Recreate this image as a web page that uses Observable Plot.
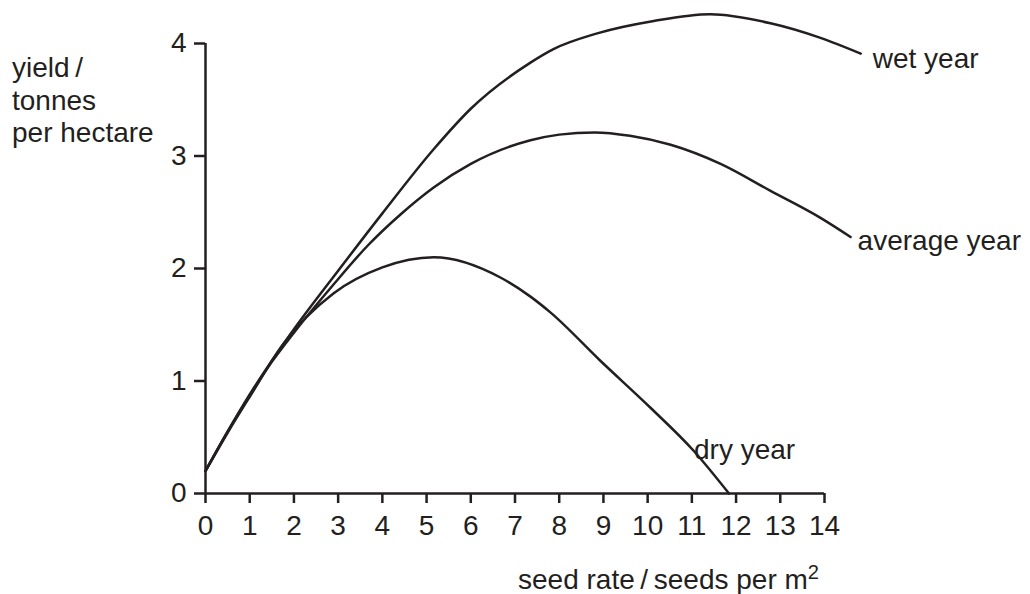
<!DOCTYPE html>
<html>
<head>
<meta charset="utf-8">
<script src="https://cdn.jsdelivr.net/npm/d3@7"></script>
<script src="https://cdn.jsdelivr.net/npm/@observablehq/plot@0.6"></script>
<style>
  html, body { margin: 0; padding: 0; background: #fff; }
  #chart svg { display: block; }
</style>
</head>
<body>
<div id="chart"></div>
<script>
// ---- data ----
const xTicks = [0, 1, 2, 3, 4, 5, 6, 7, 8, 9, 10, 11, 12, 13, 14];
const yTicks = [0, 1, 2, 3, 4];

const wetX = [0, 0.5, 1, 1.5, 2, 3, 4, 5.16, 6, 7.35, 7.87, 8.86, 10.14, 11.42, 12.78, 13.91, 14.82];
const wetY = [0.2, 0.55, 0.88, 1.18, 1.46, 1.98, 2.49, 3.06, 3.42, 3.83, 3.95, 4.09, 4.20, 4.26, 4.18, 4.05, 3.91];

const avgX = [0, 0.5, 1, 1.5, 2, 2.9, 3.66, 4.41, 5.16, 6, 7.35, 8.0, 8.8, 9.6, 10.52, 11.65, 12.78, 13.91, 14.59];
const avgY = [0.2, 0.55, 0.87, 1.17, 1.43, 1.86, 2.20, 2.48, 2.72, 2.93, 3.14, 3.19, 3.21, 3.18, 3.10, 2.93, 2.69, 2.45, 2.28];

const dryX = [0, 0.5, 1, 1.76, 2.9, 4, 5.16, 6.67, 7.35, 7.8, 8.93, 10.07, 11.04, 11.84];
const dryY = [0.2, 0.54, 0.86, 1.33, 1.78, 2.01, 2.10, 1.92, 1.75, 1.61, 1.18, 0.76, 0.38, 0.0];

const seriesNames = ["wet year", "average year", "dry year"];
const yTitleLines = ["yield\u2009/", "tonnes", "per hectare"];
const xTitleMain = "seed rate\u2009/\u2009seeds per m";
const xTitleSup = "2";

// ---- build tables ----
const toRows = (xs, ys, name) => xs.map((x, i) => ({x, y: ys[i], series: name}));
const wet = toRows(wetX, wetY, seriesNames[0]);
const avg = toRows(avgX, avgY, seriesNames[1]);
const dry = toRows(dryX, dryY, seriesNames[2]);
const ink = "#231f20";
const font = "'Liberation Sans', Arial, Helvetica, sans-serif";
const fs = 28;

const endLabel = (rows, dx, dy) => Plot.text([rows[rows.length - 1]], {
  x: "x", y: "y", text: "series", textAnchor: "start", lineAnchor: "bottom",
  dx, dy, fontSize: fs, fill: ink
});

const chart = Plot.plot({
  width: 1030,
  height: 594,
  marginLeft: 205,
  marginRight: 206,
  marginTop: 43,
  marginBottom: 101,
  style: {fontFamily: font, color: ink, background: "#fff", overflow: "visible"},
  x: {domain: [0, 14]},
  y: {domain: [0, 4]},
  marks: [
    Plot.axisX({ticks: xTicks, tickSize: 10, tickPadding: 12, fontSize: fs, tickFormat: d => String(d), label: null, strokeWidth: 2.5, stroke: ink, fill: ink}),
    Plot.axisY({ticks: yTicks, tickSize: 11, tickPadding: 8, fontSize: fs, tickFormat: d => String(d), label: null, strokeWidth: 2.5, stroke: ink, fill: ink}),
    Plot.ruleY([0], {stroke: ink, strokeWidth: 2.5}),
    Plot.ruleX([0], {stroke: ink, strokeWidth: 2.5}),
    Plot.line(wet, {x: "x", y: "y", curve: "monotone-x", stroke: ink, strokeWidth: 2.5}),
    Plot.line(avg, {x: "x", y: "y", curve: "monotone-x", stroke: ink, strokeWidth: 2.5}),
    Plot.line(dry, {x: "x", y: "y", curve: "monotone-x", stroke: ink, strokeWidth: 2.5}),
    endLabel(wet, 12, 14),
    endLabel(avg, 7, 13),
    endLabel(dry, -35, -35)
  ]
});

const svg = d3.select(chart);
// y-axis title (three lines, top-left)
const yt = svg.append("text")
  .attr("font-family", font).attr("font-size", fs).attr("fill", ink)
  .attr("text-anchor", "start");
yTitleLines.forEach((t, i) => {
  yt.append("tspan").attr("x", 12).attr("y", 77 + i * 32.5).text(t);
});
// x-axis title with superscript
const xt = svg.append("text")
  .attr("font-family", font).attr("font-size", fs).attr("fill", ink)
  .attr("text-anchor", "start")
  .attr("x", 518).attr("y", 589);
xt.append("tspan").text(xTitleMain);
xt.append("tspan").attr("font-size", fs * 0.72).attr("dy", -10).text(xTitleSup);

document.getElementById("chart").appendChild(chart);
</script>
</body>
</html>
